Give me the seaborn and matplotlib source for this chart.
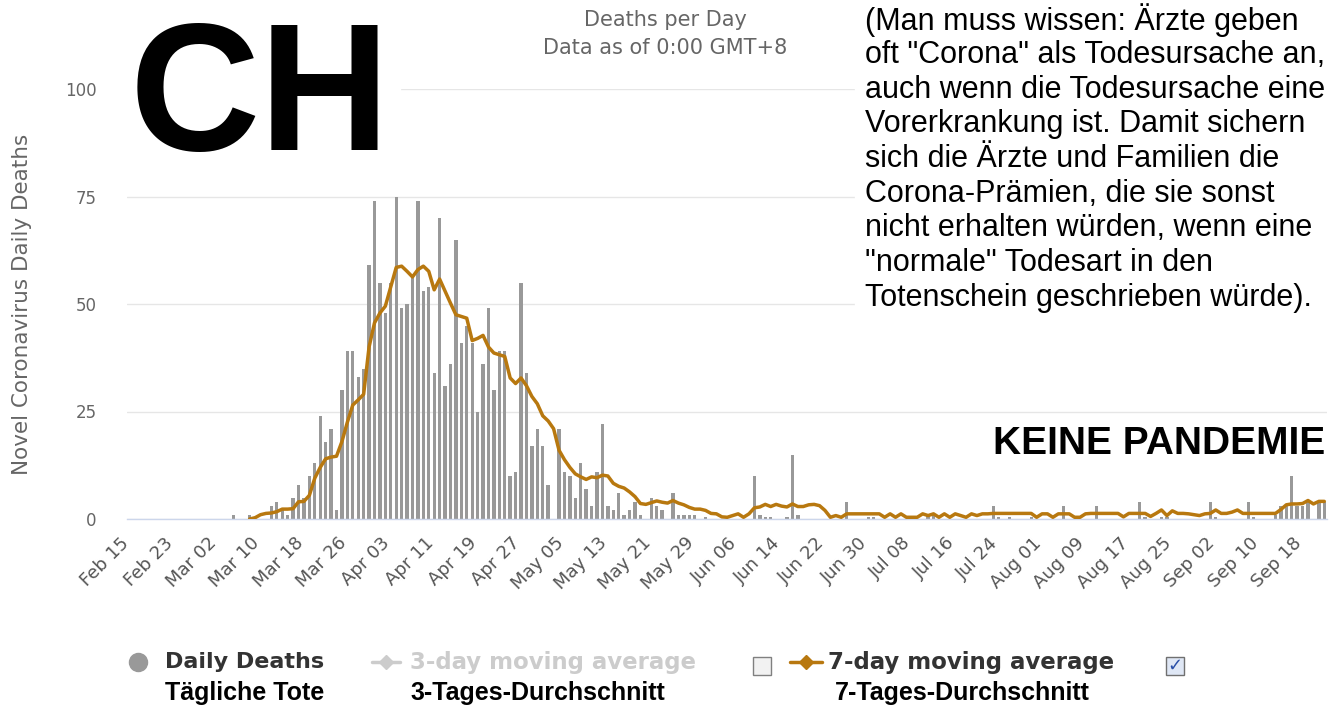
import matplotlib
matplotlib.use("Agg")
import matplotlib.pyplot as plt
from matplotlib.lines import Line2D
from matplotlib.patches import Rectangle
import seaborn as sns
import pandas as pd
import numpy as np

W, H = 1343, 706
nan = np.nan

# daily deaths, one value per day from Feb 15
daily_deaths = [
    0, 0, 0, 0, 0, 0, 0, 0, 0, 0,
    0, 0, 0, 0, 0, 0, 0, 0, 0, 1,
    0, 0, 1, 0, 0, 0, 3, 4, 2, 1,
    5, 8, 5, 10, 13, 24, 18, 21, 2, 30,
    39, 39, 33, 35, 59, 74, 55, 48, 55, 75,
    49, 50, 56, 74, 53, 54, 34, 70, 31, 36,
    65, 41, 45, 41, 25, 36, 49, 30, 39, 39,
    10, 11, 55, 34, 17, 21, 17, 8, 0, 21,
    11, 10, 5, 13, 7, 3, 11, 22, 3, 2,
    6, 1, 2, 4, 1, 0, 5, 3, 2, 0,
    6, 1, 1, 1, 1, 0, 0.5, 0, 0, 0,
    0, 0, 0, 0, 0, 10, 1, 0.5, 0.5, 0,
    0, 0.5, 15, 1, 0, 0, 0, 0, 0, 0,
    0, 0, 4, 0, 0, 0, 0.5, 0.5, 0, 0,
    0, 0, 0, 0, 0, 0, 0, 1, 1, 0,
    0, 0, 0, 0, 0, 0, 0, 0, 0, 3,
    0.5, 0, 0.5, 0, 0, 0, 0.5, 0, 0, 0,
    0, 0, 3, 0, 0, 0, 0, 0, 3, 0,
    0, 0, 0, 0, 0, 0, 4, 0.5, 0, 0,
    0.5, 0.5, 0, 0, 0, 0, 0, 0, 0, 4,
    0.5, 0, 0, 0, 0, 0, 4, 0.5, 0, 0,
    0, 1, 3, 3, 10, 3, 3, 4, 0, 4, 4,
]

# 7-day moving average as drawn
avg_7day = [
    nan, nan, nan, nan, nan, nan, nan, nan, nan, nan,
    nan, nan, nan, nan, nan, nan, nan, nan, nan, nan,
    nan, nan, 0, 0.3, 1.0, 1.3, 1.4, 1.7, 2.3, 2.3,
    2.4, 4.0, 4.1, 5.5, 9.5, 12.0, 14.0, 14.4, 14.6, 18.0,
    22.5, 26.5, 27.7, 29.0, 40.0, 45.6, 47.9, 49.5, 54.0, 58.5,
    58.8, 57.6, 56.3, 58.0, 58.8, 57.6, 53.3, 55.8, 53.0, 50.2,
    47.5, 47.1, 46.7, 41.5, 42.0, 42.7, 40.0, 38.6, 38.2, 37.8,
    32.8, 31.5, 32.8, 31.0, 28.5, 26.8, 24.0, 22.8, 21.0, 16.0,
    13.8, 12.0, 10.5, 9.8, 9.2, 9.8, 9.6, 10.2, 10.0, 8.3,
    7.6, 7.2, 6.3, 5.2, 3.6, 3.4, 3.8, 4.2, 3.9, 3.7,
    4.3, 3.7, 3.3, 2.7, 2.3, 2.3, 2.0, 1.3, 1.2, 0.5,
    0.4, 0.8, 1.2, 0.4, 1.2, 2.6, 2.8, 3.4, 2.9, 3.4,
    3.0, 2.8, 3.5, 2.9, 2.9, 3.3, 3.4, 3.1, 2.0, 0.4,
    0.8, 0.4, 1.2, 1.2, 1.2, 1.2, 1.2, 1.2, 1.2, 0.4,
    1.2, 0.4, 1.2, 0.4, 0.4, 0.4, 1.2, 0.8, 1.2, 0.4,
    1.2, 0.4, 1.2, 0.8, 0.4, 1.2, 0.8, 1.2, 1.2, 1.3,
    1.3, 1.3, 1.3, 1.3, 1.3, 1.3, 1.3, 0.4, 1.2, 1.2,
    0.4, 1.2, 1.2, 1.2, 0.4, 0.4, 1.2, 1.3, 1.3, 1.3,
    1.3, 1.3, 1.3, 0.5, 1.3, 1.3, 1.3, 1.3, 0.6, 1.3,
    2.1, 0.8, 1.9, 1.3, 1.3, 1.2, 1.0, 0.8, 1.2, 1.3,
    2.1, 1.3, 1.3, 1.6, 2.1, 1.3, 1.3, 1.3, 1.3, 1.3,
    1.3, 1.3, 2.2, 3.3, 3.5, 3.5, 3.6, 4.3, 3.5, 4.1, 4.1,
]

tick_labels = ['Feb 15', 'Feb 23', 'Mar 02', 'Mar 10', 'Mar 18', 'Mar 26',
               'Apr 03', 'Apr 11', 'Apr 19', 'Apr 27', 'May 05', 'May 13',
               'May 21', 'May 29', 'Jun 06', 'Jun 14', 'Jun 22', 'Jun 30',
               'Jul 08', 'Jul 16', 'Jul 24', 'Aug 01', 'Aug 09', 'Aug 17',
               'Aug 25', 'Sep 02', 'Sep 10', 'Sep 18']

y_ticks = [0, 25, 50, 75, 100]

note_lines = [
    '(Man muss wissen: Ärzte geben',
    'oft "Corona" als Todesursache an,',
    'auch wenn die Todesursache eine',
    'Vorerkrankung ist. Damit sichern',
    'sich die Ärzte und Familien die',
    'Corona-Prämien, die sie sonst',
    'nicht erhalten würden, wenn eine',
    '"normale" Todesart in den',
    'Totenschein geschrieben würde).',
]

df = pd.DataFrame({'day': range(len(daily_deaths)),
                   'deaths': daily_deaths,
                   'avg7': avg_7day})

sns.set_style('white')
plt.rcParams['font.family'] = ['DejaVu Sans']

BAR = '#999999'
LINE = '#b8780f'
GREY_TXT = '#666666'


def fx(px):
    return px / W


def fy(py):
    return 1 - py / H


fig = plt.figure(figsize=(W / 100, H / 100), dpi=100)
ax = fig.add_axes([fx(127), fy(519), 1200 / W, 430 / H])

sns.barplot(data=df, x='day', y='deaths', native_scale=True, color=BAR,
            saturation=1, width=0.62, errorbar=None, linewidth=0,
            ax=ax, zorder=2)
sns.lineplot(data=df, x='day', y='avg7', color=LINE, linewidth=2.5,
             ax=ax, zorder=3)

ax.set_xlim(-0.6, 220.5)
ax.set_ylim(0, 100)
ax.set_yticks(y_ticks)
ax.set_xticks(range(0, len(daily_deaths), 8))
ax.tick_params(axis='x', length=0, pad=18)
ax.tick_params(axis='y', length=0, pad=22, labelsize=12, labelcolor=GREY_TXT)
ax.set_xticklabels(tick_labels, rotation=45, ha='right', va='baseline',
                   rotation_mode='anchor', fontsize=13, color='#555555')
ax.set_xlabel('')
ax.set_ylabel('')
ax.yaxis.grid(True, color='#e6e6e6', linewidth=1)
ax.set_axisbelow(True)
for s in ['left', 'top', 'right']:
    ax.spines[s].set_visible(False)
ax.spines['bottom'].set_color('#ccd6eb')
ax.spines['bottom'].set_linewidth(1)

fig.text(fx(22), fy(304), 'Novel Coronavirus Daily Deaths', rotation=90,
         ha='center', va='center', fontsize=15.5, color=GREY_TXT)

# titles
fig.text(fx(665), fy(20), 'Deaths per Day', ha='center', va='center',
         fontsize=15, color=GREY_TXT)
fig.text(fx(665), fy(48), 'Data as of 0:00 GMT+8', ha='center', va='center',
         fontsize=15, color=GREY_TXT)

# white boxes pasted over the chart
fig.add_artist(Rectangle((fx(120), fy(160)), 280 / W, 160 / H,
                         transform=fig.transFigure, color='white', zorder=5))
fig.add_artist(Rectangle((fx(855), fy(318)), 488 / W, 318 / H,
                         transform=fig.transFigure, color='white', zorder=5))

fig.text(fx(130), fy(150), 'CH', ha='left', va='baseline', fontsize=130,
         fontweight='bold', family='Liberation Sans', color='black', zorder=6)

for i, line in enumerate(note_lines):
    fig.text(fx(865), fy(20 + i * 34.75), line, ha='left', va='center',
             fontsize=22, family='Liberation Sans', color='black', zorder=6)

fig.text(fx(993), fy(444), 'KEINE PANDEMIE', ha='left', va='center',
         fontsize=28, fontweight='bold', family='Liberation Sans',
         color='black', zorder=6)

# legend
ly = fy(662)
fig.add_artist(Line2D([fx(138)], [ly], marker='o', markersize=13, color=BAR,
                      linestyle='none', transform=fig.transFigure))
fig.text(fx(165), ly, 'Daily Deaths', ha='left', va='center', fontsize=16,
         fontweight='bold', color='#333333')

fig.add_artist(Line2D([fx(372), fx(400)], [ly, ly], color='#cccccc', lw=2.5,
                      transform=fig.transFigure))
fig.add_artist(Line2D([fx(386)], [ly], marker='D', markersize=7,
                      color='#cccccc', linestyle='none',
                      transform=fig.transFigure))
fig.text(fx(410), ly, '3-day moving average', ha='left', va='center',
         fontsize=16.5, fontweight='bold', color='#cccccc')

fig.add_artist(Rectangle((fx(753), fy(675)), 18 / W, 18 / H,
                         transform=fig.transFigure, facecolor='#f2f2f2',
                         edgecolor='#808080', lw=1))

fig.add_artist(Line2D([fx(790), fx(822)], [ly, ly], color=LINE, lw=2.5,
                      transform=fig.transFigure))
fig.add_artist(Line2D([fx(806)], [ly], marker='D', markersize=7, color=LINE,
                      linestyle='none', transform=fig.transFigure))
fig.text(fx(828), ly, '7-day moving average', ha='left', va='center',
         fontsize=16.5, fontweight='bold', color='#333333')

fig.add_artist(Rectangle((fx(1166), fy(675)), 18 / W, 18 / H,
                         transform=fig.transFigure, facecolor='#dfe7f5',
                         edgecolor='#707070', lw=1))
fig.text(fx(1175), fy(666), '✓', ha='center', va='center', fontsize=13,
         fontweight='bold', color='#2a4fa8')

for x, label in [(165, 'Tägliche Tote'), (410, '3-Tages-Durchschnitt'),
                 (835, '7-Tages-Durchschnitt')]:
    fig.text(fx(x), fy(693), label, ha='left', va='center', fontsize=18,
             fontweight='bold', family='Liberation Sans', color='black')

fig.savefig('out.png', dpi=100)
